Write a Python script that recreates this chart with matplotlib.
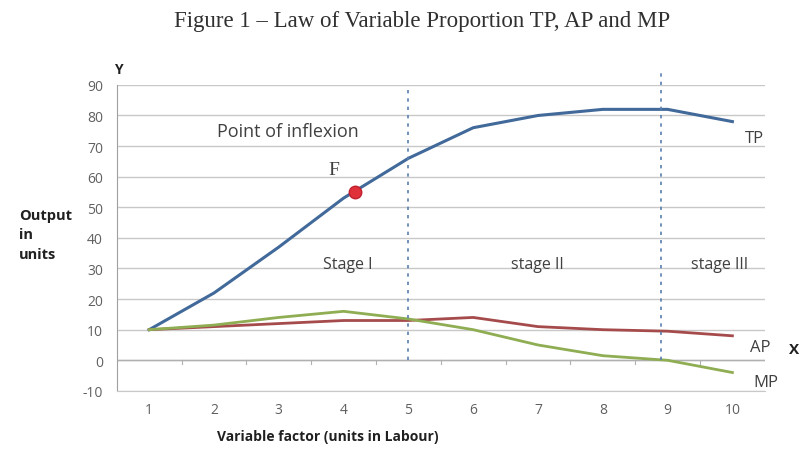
import numpy as np
import matplotlib
matplotlib.use('Agg')
import matplotlib.pyplot as plt

# labour units and output schedules
units = [1, 2, 3, 4, 5, 6, 7, 8, 9, 10]
tp = [10, 22, 37, 53, 66, 76, 80, 82, 82, 78]
ap = [10, 11, 12, 13, 13, 14, 11, 10, 9.5, 8]
mp = [10, 11.5, 14, 16, 13.5, 10, 5, 1.5, 0, -4]

stage_bounds = [5, 8.9]
stage_names = ['Stage I', 'stage II', 'stage III']
stage_x = [4.07, 6.99, 9.8]
inflexion = (4.17, 55)

plt.rcParams['font.family'] = ['Open Sans', 'DejaVu Sans']
plt.rcParams['axes.unicode_minus'] = False

fig = plt.figure(figsize=(8, 4.52), dpi=100)
ax = fig.add_axes([0.146, 0.133, 0.81, 0.677])

ax.set_xlim(0.5, 10.5)
ax.set_ylim(-10, 90)
ax.set_yticks(np.arange(-10, 91, 10))
ax.set_xticks(units)
ax.yaxis.grid(True, color='#c8c8c8', lw=1)
ax.set_axisbelow(True)
for s in ['top', 'right']:
    ax.spines[s].set_visible(False)
ax.spines['left'].set_color('#a0a0a0')
ax.spines['bottom'].set_color('#c8c8c8')
ax.tick_params(axis='both', length=0, labelsize=10, labelcolor='#606060', pad=8)
ax.tick_params(axis='y', pad=10)

# horizontal axis at zero with ticks between categories
ax.axhline(0, color='#b0b0b0', lw=1)
for u in units[:-1]:
    ax.plot([u + 0.5, u + 0.5], [0, -1.2], color='#b0b0b0', lw=0.8)

ax.plot(units, tp, color='#41699a', lw=2.2)
ax.plot(units, ap, color='#a64b4b', lw=2)
ax.plot(units, mp, color='#8fad52', lw=2)

ax.plot([inflexion[0]], [inflexion[1]], 'o', color='#e0303a', ms=9, mec='#c02030')

ax.plot([stage_bounds[0]] * 2, [0, 90], color='#5a7fae', lw=1.2, ls=(0, (2, 3)), clip_on=False)
ax.plot([stage_bounds[1]] * 2, [0, 95], color='#5a7fae', lw=1.2, ls=(0, (2, 3)), clip_on=False)

for name, x in zip(stage_names, stage_x):
    ax.text(x, 31.4, name, ha='center', va='center', fontsize=11.5, color='#404040')

ax.text(3.14, 75, 'Point of inflexion', ha='center', va='center', fontsize=13, color='#404040')
ax.text(3.85, 62.5, 'F', ha='center', va='center', fontsize=14, color='#404040',
        family='Liberation Serif')

ax.text(10.2, 72.5, 'TP', ha='left', va='center', fontsize=12, color='#404040')
ax.text(10.27, 4.5, 'AP', ha='left', va='center', fontsize=12, color='#404040')
ax.text(10.33, -7, 'MP', ha='left', va='center', fontsize=12, color='#404040')
fig.text(0.999, 0.225, 'X', ha='right', va='center', fontsize=11, color='#202020',
         fontweight='bold')

fig.text(0.148, 0.845, 'Y', ha='center', va='center', fontsize=10, fontweight='bold', color='#202020')
fig.text(0.024, 0.48, 'Output\nin\nunits', ha='left', va='center', fontsize=10.5,
         fontweight='bold', color='#202020', linespacing=1.5)
fig.text(0.41, 0.033, 'Variable factor (units in Labour)', ha='center', va='center',
         fontsize=10, fontweight='bold', color='#202020')
fig.text(0.528, 0.952, 'Figure 1 \u2013 Law of Variable Proportion TP, AP and MP', ha='center',
         va='center', fontsize=16.5, family='Liberation Serif', color='#303030')

fig.savefig('out.png', dpi=100)
